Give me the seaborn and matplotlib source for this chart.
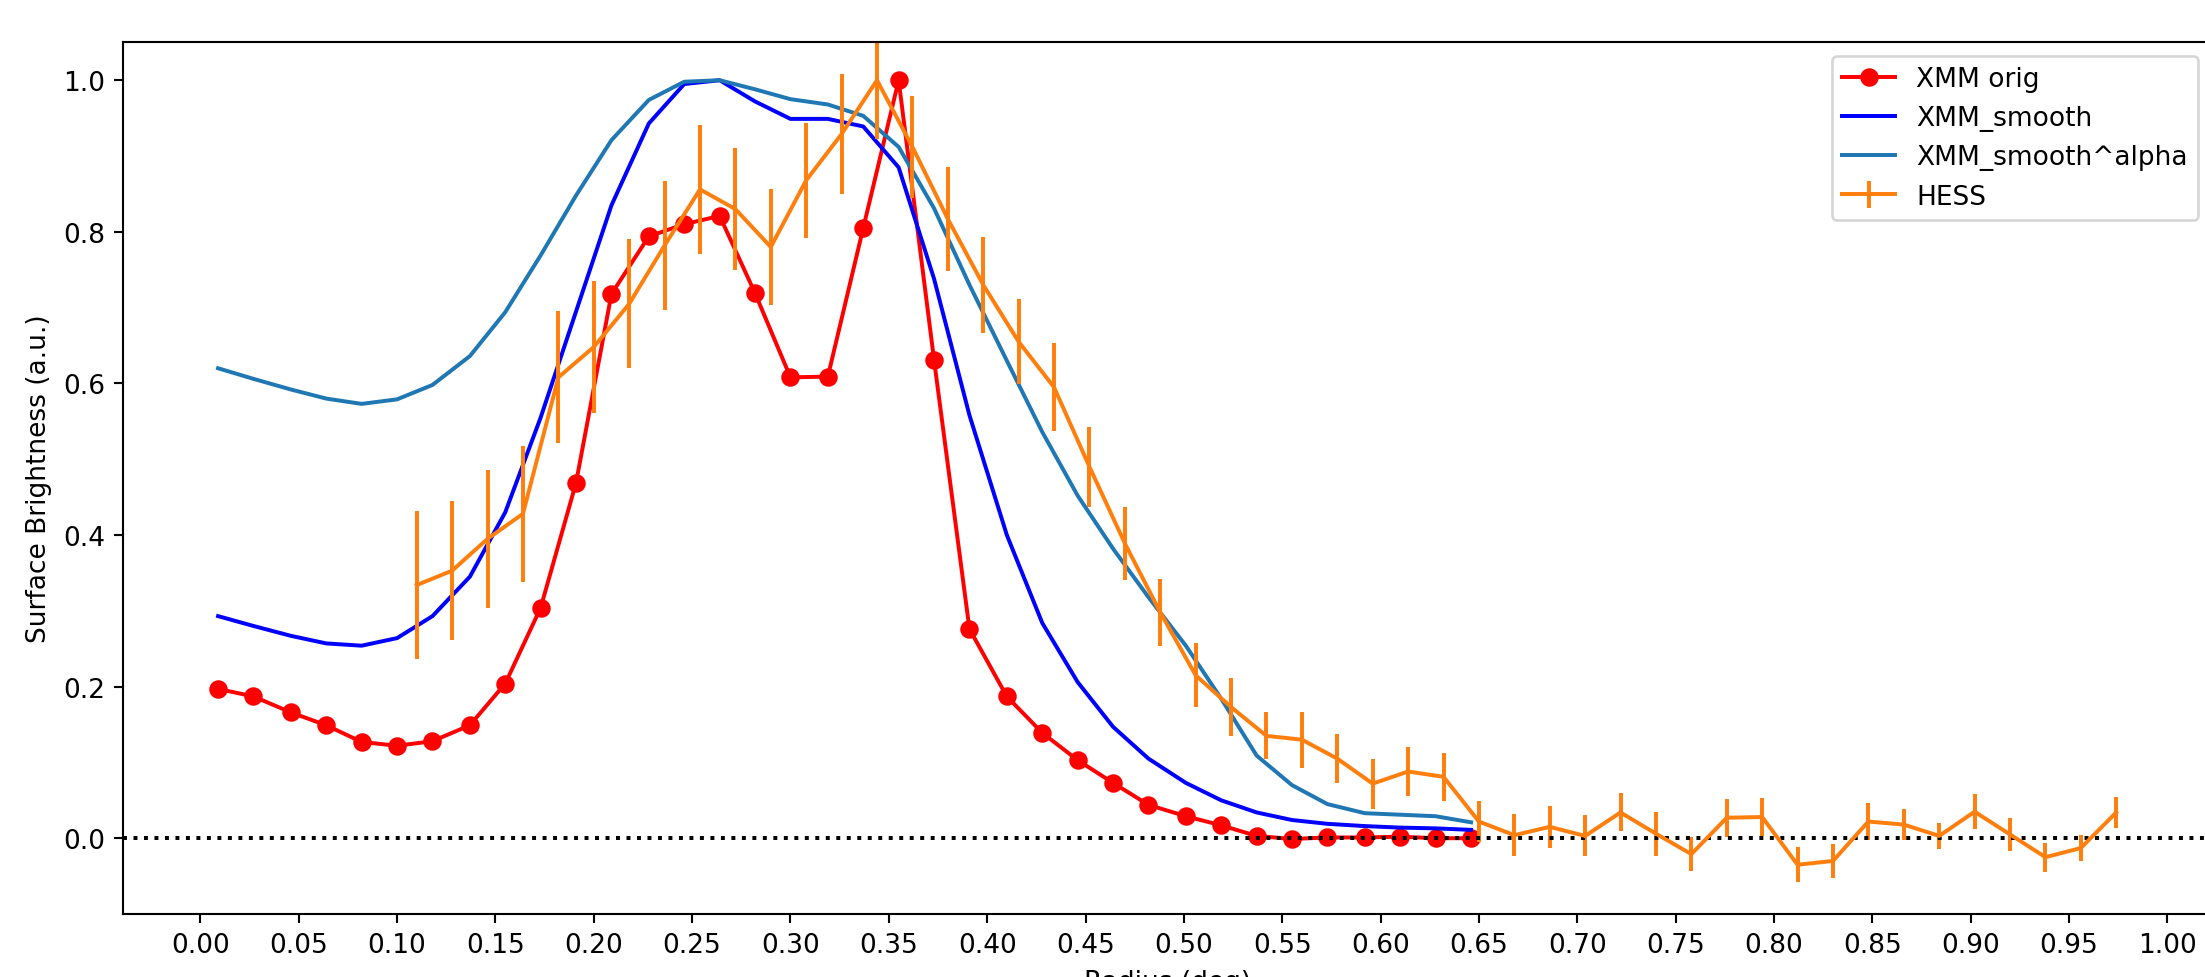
import numpy as np
import matplotlib
matplotlib.use("Agg")
import matplotlib.pyplot as plt
import seaborn as sns

# XMM radial profile (bin centres in deg)
xmm_r = [0.009, 0.027, 0.046, 0.064, 0.082, 0.100, 0.118, 0.137, 0.155, 0.173,
         0.191, 0.209, 0.228, 0.246, 0.264, 0.282, 0.300, 0.319, 0.337, 0.355,
         0.373, 0.391, 0.410, 0.428, 0.446, 0.464, 0.482, 0.501, 0.519, 0.537,
         0.555, 0.573, 0.592, 0.610, 0.628, 0.646]

xmm_orig = [0.197, 0.187, 0.166, 0.149, 0.127, 0.122, 0.128, 0.149, 0.204, 0.304,
            0.469, 0.718, 0.794, 0.810, 0.821, 0.719, 0.608, 0.609, 0.805, 1.000,
            0.631, 0.276, 0.187, 0.139, 0.103, 0.073, 0.044, 0.029, 0.017, 0.003,
            -0.001, 0.001, 0.001, 0.002, 0.000, 0.000]

xmm_smooth = [0.293, 0.280, 0.267, 0.257, 0.254, 0.264, 0.293, 0.345, 0.430, 0.555,
              0.695, 0.835, 0.943, 0.995, 1.000, 0.972, 0.949, 0.949, 0.939, 0.885,
              0.738, 0.558, 0.400, 0.284, 0.206, 0.147, 0.105, 0.073, 0.050, 0.034,
              0.024, 0.019, 0.016, 0.014, 0.013, 0.011]

xmm_alpha = [0.620, 0.606, 0.592, 0.580, 0.573, 0.579, 0.598, 0.636, 0.694, 0.769,
             0.848, 0.921, 0.974, 0.998, 1.000, 0.988, 0.975, 0.968, 0.953, 0.912,
             0.831, 0.730, 0.630, 0.536, 0.452, 0.382, 0.318, 0.254, 0.184, 0.109,
             0.070, 0.045, 0.033, 0.031, 0.029, 0.021]

# HESS profile with errors
hess_r = [0.110, 0.128, 0.146, 0.164, 0.182, 0.200, 0.218, 0.236, 0.254, 0.272,
          0.290, 0.308, 0.326, 0.344, 0.362, 0.380, 0.398, 0.416, 0.434, 0.452,
          0.470, 0.488, 0.506, 0.524, 0.542, 0.560, 0.578, 0.596, 0.614, 0.632,
          0.650, 0.668, 0.686, 0.704, 0.722, 0.740, 0.758, 0.776, 0.794, 0.812,
          0.830, 0.848, 0.866, 0.884, 0.902, 0.920, 0.938, 0.956, 0.974]

hess = [0.334, 0.353, 0.395, 0.428, 0.608, 0.648, 0.705, 0.782, 0.856, 0.830,
        0.780, 0.868, 0.929, 1.000, 0.912, 0.817, 0.730, 0.655, 0.595, 0.490,
        0.389, 0.298, 0.215, 0.173, 0.135, 0.130, 0.105, 0.072, 0.088, 0.081,
        0.022, 0.004, 0.015, 0.003, 0.034, 0.006, -0.021, 0.027, 0.028, -0.035,
        -0.030, 0.022, 0.018, 0.003, 0.035, 0.005, -0.025, -0.013, 0.034]

hess_err = [0.098, 0.092, 0.091, 0.090, 0.087, 0.087, 0.085, 0.085, 0.085, 0.081,
            0.076, 0.076, 0.079, 0.078, 0.067, 0.069, 0.063, 0.056, 0.058, 0.053,
            0.048, 0.044, 0.042, 0.038, 0.031, 0.037, 0.032, 0.033, 0.032, 0.032,
            0.027, 0.028, 0.028, 0.027, 0.025, 0.029, 0.022, 0.025, 0.025, 0.023,
            0.023, 0.024, 0.021, 0.017, 0.023, 0.022, 0.019, 0.017, 0.020]

dpi = 190
fig = plt.figure(figsize=(2205 / dpi, 978 / dpi), dpi=dpi)
# axes runs slightly past the right edge, like the cropped original
ax = fig.add_axes([0.0559, 0.0644, 0.9471, 0.8913])

sns.lineplot(x=xmm_r, y=xmm_orig, color="r", marker="o", markersize=6,
             markeredgecolor="r", markeredgewidth=1, label="XMM orig",
             estimator=None, sort=False, ax=ax)
sns.lineplot(x=xmm_r, y=xmm_smooth, color="b", label="XMM_smooth",
             estimator=None, sort=False, ax=ax)
sns.lineplot(x=xmm_r, y=xmm_alpha, color="C0", label="XMM_smooth^alpha",
             estimator=None, sort=False, ax=ax)
ax.errorbar(hess_r, hess, yerr=hess_err, color="C1", lw=1.5, label="HESS")

ax.axhline(0, color="k", ls=":", lw=1.5)

ax.set_xlim(-0.0392, 1.0225)
ax.set_ylim(-0.1, 1.05)
ax.set_xticks(np.arange(0, 1.001, 0.05))
ax.set_yticks([0.0, 0.2, 0.4, 0.6, 0.8, 1.0])

ax.set_xlabel("Radius (deg)")
ax.set_ylabel("Surface Brightness (a.u.)")

ax.legend(loc="upper right")

fig.savefig("out.png", dpi=dpi)
